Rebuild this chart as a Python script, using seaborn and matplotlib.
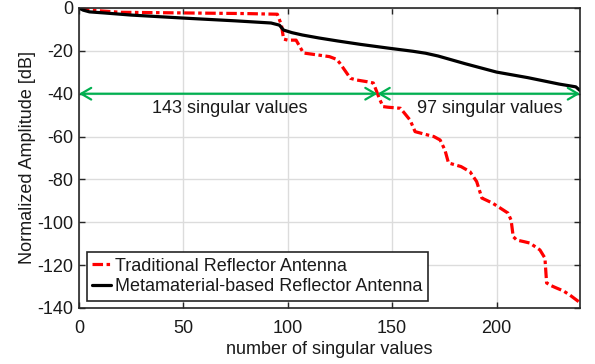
import matplotlib
matplotlib.use("Agg")
import matplotlib.pyplot as plt
import seaborn as sns
import pandas as pd

# ---- data ----
trad_x = [0, 5, 20, 50, 80, 95, 97, 98, 100, 104, 107.5, 115, 120, 123.5, 125, 130, 133, 138, 141, 144,
          145.6, 148, 154, 158.6, 161, 166, 170, 173, 175.3, 177, 183, 187.3, 190.5, 193, 198, 201.7,
          205.5, 207, 208, 209.7, 213, 216, 220.8, 223.2, 224, 226, 228.8, 232, 235.2, 240]
trad_y = [0, -1, -2, -2.3, -2.6, -2.9, -8, -14.5, -15, -15, -21, -22, -22.7, -24, -25.8, -32.8, -33.6, -34.4, -35, -42.5,
          -46, -46.3, -46.8, -52.3, -57.7, -59, -60, -61.6, -66.3, -72.3, -74, -76.4, -81, -88.7, -91, -93.3,
          -95.7, -99, -106.7, -108.3, -109, -109.7, -112.9, -116.7, -128.3, -129.5, -130.7, -132, -134, -137.5]

meta_x = [0, 2, 5, 12, 25, 50, 75, 92, 96, 98, 102, 107, 115, 124, 135, 148, 160, 166, 172, 185, 200, 215, 230, 238, 240]
meta_y = [0, -1, -1.8, -2.3, -3.3, -4.7, -6, -7, -8, -10.3, -11.5, -12.6, -14, -15.4, -17, -18.7, -20.2, -21.1, -22.4,
          -26, -29.9, -32.5, -35.5, -36.8, -38.5]

trad_label = "Traditional Reflector Antenna"
meta_label = "Metamaterial-based Reflector Antenna"

split_x = 143
arrow_y = -40
left_text = "143 singular values"
right_text = "97 singular values"

x_ticks = [0, 50, 100, 150, 200]
y_ticks = [0, -20, -40, -60, -80, -100, -120, -140]

# ---- styling ----
sns.set_theme(style="whitegrid")
plt.rcParams["font.family"] = ["Liberation Sans", "DejaVu Sans"]
plt.rcParams["axes.unicode_minus"] = False

df_trad = pd.DataFrame({"x": trad_x, "y": trad_y})
df_meta = pd.DataFrame({"x": meta_x, "y": meta_y})

fig = plt.figure(figsize=(5.95, 3.64), dpi=100)
ax = fig.add_axes([79 / 595, 1 - 308 / 364, 501 / 595, 300 / 364])
ax.set_facecolor("white")

sns.lineplot(data=df_trad, x="x", y="y", ax=ax, color="#ff0000", linewidth=2.3,
             linestyle=(0, (3.3, 1.1, 1.1, 1.1)), label=trad_label, sort=False)
sns.lineplot(data=df_meta, x="x", y="y", ax=ax, color="black", linewidth=2.3,
             label=meta_label, sort=False)

ax.set_xlim(0, 240)
ax.set_ylim(-140, 0)
ax.set_xticks(x_ticks)
ax.set_yticks(y_ticks)
ax.grid(True, color="#dcdcdc", linewidth=1.0)
for s in ax.spines.values():
    s.set_visible(True)
    s.set_color("#262626")
    s.set_linewidth(1.2)
ax.tick_params(direction="in", length=4, width=1, colors="#262626", labelcolor="#1a1a1a",
               labelsize=13, top=True, right=True, bottom=True, left=True)
ax.tick_params(axis="x", pad=8.5)
ax.tick_params(axis="y", pad=4)

ax.set_xlabel("number of singular values", fontsize=13, color="#1a1a1a", labelpad=3)
ax.set_ylabel("Normalized Amplitude [dB]", fontsize=13, color="#1a1a1a", labelpad=1)

green = "#00b050"
ax.annotate("", xy=(0, arrow_y), xytext=(split_x, arrow_y),
            arrowprops=dict(arrowstyle="<->,head_length=0.6,head_width=0.35", color=green, lw=1.6,
                            shrinkA=0, shrinkB=0))
ax.annotate("", xy=(split_x, arrow_y), xytext=(240, arrow_y),
            arrowprops=dict(arrowstyle="<->,head_length=0.6,head_width=0.35", color=green, lw=1.6,
                            shrinkA=0, shrinkB=0))
ax.text(72, -47, left_text, fontsize=13, ha="center", va="center", color="#1a1a1a")
ax.text(197, -47, right_text, fontsize=13, ha="center", va="center", color="#1a1a1a")

leg = ax.legend(loc="lower left", bbox_to_anchor=(0.016, 0.024), borderaxespad=0, fontsize=13,
                frameon=True, fancybox=False, edgecolor="#262626", handlelength=1.05,
                handletextpad=0.2, labelspacing=0.2, borderpad=0.3, framealpha=1)
leg.get_frame().set_linewidth(1.2)
for t in leg.get_texts():
    t.set_color("#1a1a1a")

fig.savefig("out.png", dpi=100)
